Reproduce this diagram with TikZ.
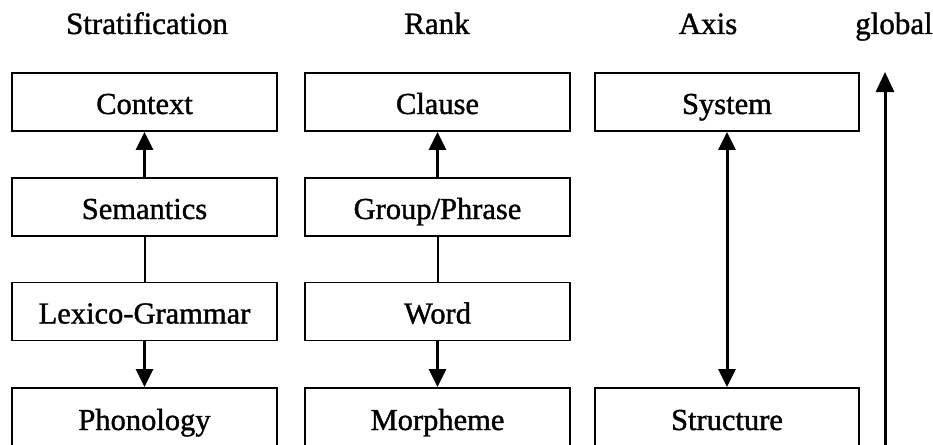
\documentclass[tikz,border=0pt]{standalone}
\usepackage{fontspec}
\setmainfont{Liberation Serif}[BoldFont=Liberation Serif, BoldFeatures={FakeBold=1.2}]
\usetikzlibrary{arrows.meta}
\begin{document}
\begin{tikzpicture}[x=1pt,y=-1pt,
  box/.style={draw, line width=1.8pt, minimum width=265pt, minimum height=58pt,
              inner sep=0pt, text height=24pt, text depth=0pt,
              font=\fontsize{30.5}{36}\selectfont\bfseries},
  head/.style={font=\fontsize{31}{36}\selectfont\bfseries, inner sep=0pt, anchor=base},
  link/.style={line width=2pt},
  tip/.style={Triangle[length=18pt,width=17pt]},
  arr/.style={line width=3pt, -{Triangle[length=18pt,width=17pt]}},
  darr/.style={line width=3pt, {Triangle[length=18pt,width=17pt]}-{Triangle[length=18pt,width=17pt]}}]
\useasboundingbox (0,0) rectangle (933,444);
\clip (0,0) rectangle (933,444);
\fill[white] (0,0) rectangle (933,444);

% column headings
\node[head] (hstr) at (147,34) {Stratification};
\node[head] (hrank) at (437,34) {Rank};
\node[head] (haxis) at (708,34) {Axis};
\node[head] (hglob) at (894,34) {global};

% stratification column
\node[box] (ctx) at (144.5,102) {Context};
\node[box] (sem) at (144.5,207) {Semantics};
\node[box] (lex) at (144.5,311.5) {Lexico-Grammar};
\node[box, minimum height=60pt] (pho) at (144.5,418) {Phonology};

% rank column
\node[box] (cla) at (437.5,102) {Clause};
\node[box] (grp) at (437.5,207) {Group/Phrase};
\node[box] (wrd) at (437.5,311.5) {Word};
\node[box, minimum height=60pt] (mor) at (437.5,418) {Morpheme};

% axis column
\node[box, minimum width=264pt] (sys) at (727,102) {System};
\node[box, minimum width=264pt, minimum height=60pt] (stc) at (727,418) {Structure};

% connectors
\draw[arr] (sem.north) -- (ctx.south);
\draw[link] (sem.south) -- (lex.north);
\draw[arr] (lex.south) -- (pho.north);

\draw[arr] (grp.north) -- (cla.south);
\draw[link] (grp.south) -- (wrd.north);
\draw[arr] (wrd.south) -- (mor.north);

\draw[darr] (sys.south) -- (stc.north);

% global direction arrow
\coordinate (g0) at (885,446);
\coordinate (g1) at (885,72);
\draw[line width=3pt, -{Triangle[length=20pt,width=18pt]}] (g0) -- (g1);
\end{tikzpicture}
\end{document}
